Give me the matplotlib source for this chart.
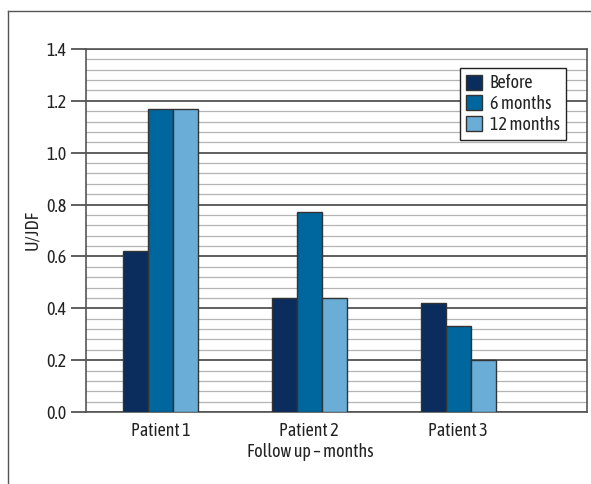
import matplotlib
matplotlib.use("Agg")
import matplotlib.pyplot as plt
from matplotlib.lines import Line2D
from matplotlib import font_manager as fm
import numpy as np

categories = ["Patient 1", "Patient 2", "Patient 3"]
series_names = ["Before", "6 months", "12 months"]
before = [0.62, 0.44, 0.42]
six_months = [1.17, 0.77, 0.33]
twelve_months = [1.17, 0.44, 0.20]
yticks = [0.0, 0.2, 0.4, 0.6, 0.8, 1.0, 1.2, 1.4]

colors = ["#0a2d5e", "#00679e", "#6aaed8"]

# pick a condensed font (reference uses a condensed sans)
chosen = None
files = [f.fname for f in fm.fontManager.ttflist]
for pref in ["AsapCondensed-Regular", "ArchivoNarrow", "LiberationSansNarrow-Regular"]:
    for fn in files:
        if pref in fn.split("/")[-1]:
            chosen = fn
            break
    if chosen:
        break
fp = fm.FontProperties(fname=chosen) if chosen else fm.FontProperties(family="DejaVu Sans")
fp.set_size(13)

fig = plt.figure(figsize=(5.91, 4.84), dpi=100)
ax = fig.add_axes([86/591, 1-412/484, (587-86)/591, (412-49)/484])

x = np.arange(len(categories))
w = 0.168
for i, (vals, name) in enumerate(zip([before, six_months, twelve_months], series_names)):
    ax.bar(x + (i - 1) * w, vals, width=w, color=colors[i], edgecolor="#333333",
           linewidth=1.0, label=name, zorder=3)

ax.set_xlim(-0.5, 2.866)
ax.set_ylim(0, 1.4)
ax.set_yticks(yticks)
ax.set_yticklabels([f"{v:.1f}" for v in yticks], fontproperties=fp, color="#222222")
ax.set_yticks(np.arange(0, 1.4001, 0.04), minor=True)
ax.set_xticks(x)
ax.set_xticklabels(categories, fontproperties=fp, color="#222222")
ax.tick_params(axis='x', length=0, pad=7)
ax.tick_params(axis='y', which='major', length=11, width=1.2, color="#444444", pad=3)
ax.tick_params(axis='y', which='minor', length=0)
ax.grid(axis='y', which='major', color="#444444", linewidth=1.2, zorder=0)
ax.grid(axis='y', which='minor', color="#b4b4b4", linewidth=0.9, zorder=0)
ax.set_axisbelow(True)
for s in ax.spines.values():
    s.set_color("#555555")
    s.set_linewidth(1.2)

ax.set_ylabel("U/JDF", fontproperties=fp, labelpad=4, color="#222222")
ax.set_xlabel("Follow up – months", fontproperties=fp, labelpad=2, color="#222222")
ax.xaxis.set_label_coords((310-86)/501, -0.085)

leg = ax.legend(loc="upper right", bbox_to_anchor=((566-86)/501, 1 - (68-49)/363),
                prop=fp, frameon=True, fancybox=False, edgecolor="#222222",
                framealpha=1, handlelength=0.9, handleheight=0.9, handletextpad=0.4,
                borderpad=0.35, labelspacing=0.15, borderaxespad=0)
leg.get_frame().set_linewidth(1.0)
for t in leg.get_texts():
    t.set_color("#222222")

fig.add_artist(Line2D([8/591, 1.0], [1-11/484, 1-11/484], transform=fig.transFigure,
                      color="#555555", linewidth=1.0))
fig.add_artist(Line2D([8/591, 8/591], [0, 1-11/484], transform=fig.transFigure,
                      color="#555555", linewidth=1.0))

fig.savefig("out.png", dpi=100)
